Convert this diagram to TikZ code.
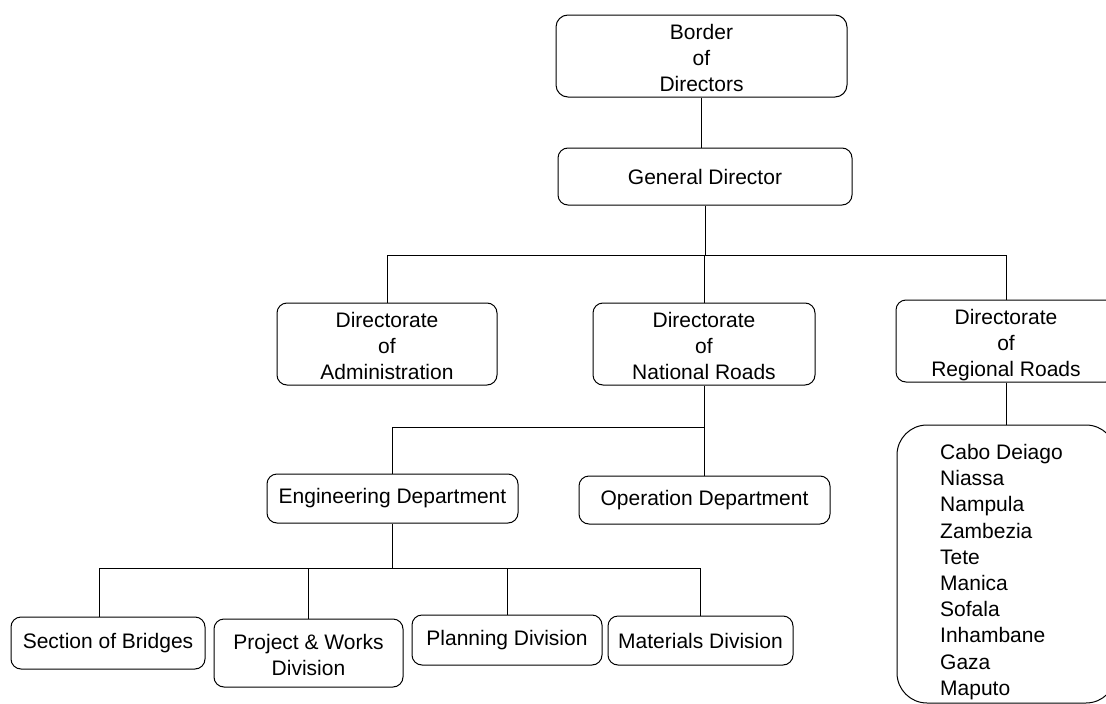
\documentclass[tikz,border=0pt]{standalone}
\usepackage{fontspec}
\setmainfont{Liberation Sans}
% multi-line box label, set a little below the box centre
\newcommand\stacked[1]{\raisebox{-4.5pt}[\height][\depth]{\begin{tabular}{@{}c@{}}#1\end{tabular}}}
\begin{document}
\begin{tikzpicture}[x=1pt,y=-1pt,
  orgbox/.style={draw=black, line width=1pt, rounded corners=10pt, inner sep=0pt,
                 align=center, font=\fontsize{21}{26}\selectfont},
  link/.style={draw=black, line width=1pt}]
\useasboundingbox (0,0) rectangle (1106,704);
\begin{scope}
\clip (0,0) rectangle (1106,704);

% top management
\node[orgbox, minimum width=291pt, minimum height=82pt, rounded corners=12pt] (bod) at (701.5,56) {\stacked{Border\\of\\Directors}};
\node[orgbox, minimum width=294pt, minimum height=57pt] (gd) at (705,176.5) {General Director};

% directorates
\node[orgbox, minimum width=220pt, minimum height=82pt] (adm) at (387,344) {\stacked{Directorate\\of\\Administration}};
\node[orgbox, minimum width=222pt, minimum height=82pt] (nat) at (704,344) {\stacked{Directorate\\of\\National Roads}};
\node[orgbox, minimum width=220pt, minimum height=82pt] (reg) at (1006,341) {\stacked{Directorate\\of\\Regional Roads}};

% provinces under regional roads
\node[orgbox, minimum width=219pt, minimum height=278pt, rounded corners=30pt] (prov) at (1006.5,564) {};
\node[anchor=north west, inner sep=0pt, align=left, font=\fontsize{21}{26.2}\selectfont] (provlist) at (940,444)
  {Cabo Deiago\\Niassa\\Nampula\\Zambezia\\Tete\\Manica\\Sofala\\Inhambane\\Gaza\\Maputo};

% departments
\node[orgbox, minimum width=251pt, minimum height=49pt] (eng) at (392.5,498.5) {Engineering Department};
\node[orgbox, minimum width=251pt, minimum height=48pt] (ops) at (704.5,500) {Operation Department};

% divisions
\node[orgbox, minimum width=194pt, minimum height=52pt] (sec) at (108,643) {Section of Bridges};
\node[orgbox, minimum width=189pt, minimum height=68pt] (pw) at (308.5,653) {\stacked{Project \& Works\\Division}};
\node[orgbox, minimum width=190pt, minimum height=50pt] (pla) at (507,640) {Planning Division};
\node[orgbox, minimum width=185pt, minimum height=49pt] (mat) at (700.5,640.5) {Materials Division};

% connectors
\draw[link] (bod.south) -- (bod.south |- gd.north);
\draw[link] (gd.south) -- ++(0,50) coordinate (busA);
\draw[link] (adm.north) |- (busA) -| (reg.north);
\draw[link] (nat.north) -- (nat.north |- busA);

\draw[link] (nat.south) -- (nat.south |- ops.north);
\draw[link] (eng.north) |- ([yshift=-42pt]nat.south);

\draw[link] (reg.south) -- (reg.south |- prov.north);

\draw[link] (eng.south) -- ++(0,45) coordinate (busC);
\draw[link] ([xshift=-9pt]sec.north) |- (mat.north |- busC) -- (mat.north);
\draw[link] (pw.north) -- (pw.north |- busC);
\draw[link] (pla.north) -- (pla.north |- busC);
\end{scope}
\end{tikzpicture}
\end{document}
